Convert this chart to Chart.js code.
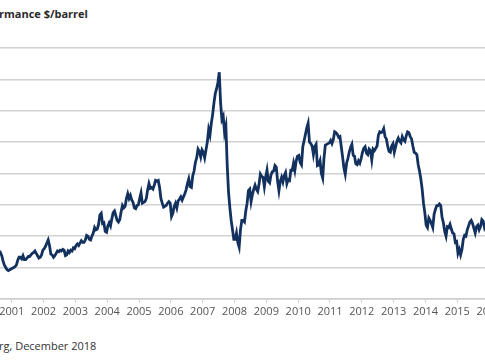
<!DOCTYPE html>
<html>
<head>
<meta charset="utf-8">
<script src="https://cdn.jsdelivr.net/npm/chart.js@4/dist/chart.umd.min.js"></script>
<style>
  html, body { margin: 0; padding: 0; background: #fff; }
  body { width: 485px; height: 360px; overflow: hidden; position: relative; font-family: "Open Sans", sans-serif; }
  #title { position: absolute; left: -1px; top: 6px; font-size: 11px; font-weight: bold; color: #2b2b2b; white-space: nowrap; }
  #source { position: absolute; left: -1px; top: 338px; font-size: 11px; color: #333; white-space: nowrap; }
  #wrap { position: absolute; left: -60px; top: 0; width: 605px; height: 320px; }
</style>
</head>
<body>
<div id="title">rmance $/barrel</div>
<div id="wrap"><canvas id="chart"></canvas></div>
<div id="source">rg, December 2018</div>
<script>
// prix semi-mensuels, premier point = 1re quinzaine de juillet 2001
const startYear = 2001.5;
const pointsPerYear = 24;
const prices = [
  26.5, 26.8, 28.5, 29.5, 27.5, 24.0, 21.5, 20.0, 18.5, 18.0, 18.5, 19.0,             // 2001 S2
  19.5, 20.0, 20.5, 21.5, 24.5, 26.5, 26.5, 25.5, 27.5, 25.0, 25.0, 26.0,             // 2002
  27.0, 27.0, 28.0, 29.0, 29.5, 30.5, 29.0, 27.5, 26.0, 26.5, 28.0, 31.0,
  32.0, 33.5, 35.5, 37.5, 34.0, 28.5, 28.0, 26.5, 27.5, 29.0, 30.5, 30.0,             // 2003
  31.0, 30.5, 31.5, 31.0, 27.5, 28.0, 30.5, 29.5, 31.0, 30.5, 32.5, 32.0,
  34.0, 35.0, 34.0, 35.5, 37.0, 36.0, 36.0, 37.5, 40.5, 40.0, 38.0, 37.5,             // 2004
  40.0, 42.0, 45.5, 44.0, 44.5, 47.5, 53.5, 54.5, 48.0, 48.5, 43.0, 42.5,
  46.5, 48.5, 46.5, 51.0, 55.0, 56.0, 53.0, 50.0, 49.0, 50.5, 55.5, 59.5,             // 2005
  58.0, 59.0, 64.0, 67.0, 64.0, 66.0, 63.0, 61.5, 58.0, 57.5, 59.5, 60.0,
  64.0, 67.5, 61.0, 61.5, 62.0, 64.0, 69.5, 73.5, 70.5, 71.0, 70.0, 72.5,             // 2006
  75.5, 75.0, 75.5, 71.0, 64.0, 61.0, 58.5, 59.0, 59.5, 61.0, 62.0, 61.0,
  52.5, 54.5, 59.0, 61.0, 58.0, 62.5, 63.5, 65.0, 63.0, 65.0, 67.0, 69.5,             // 2007
  73.5, 76.5, 71.5, 71.0, 78.5, 81.5, 87.0, 90.0, 95.5, 94.0, 90.5, 95.0,
  93.5, 90.0, 95.0, 100.0, 108.0, 104.5, 112.0, 117.5, 125.0, 131.0, 134.0, 138.0,    // 2008
  144.5, 125.0, 114.5, 116.5, 106.0, 110.0, 85.0, 68.0, 58.0, 50.0, 44.0, 38.0,
  38.0, 42.0, 36.0, 33.0, 44.0, 50.0, 50.0, 49.0, 56.0, 61.0, 69.0, 70.0,             // 2009
  62.0, 66.5, 70.0, 72.5, 70.0, 68.5, 73.0, 79.5, 78.0, 77.5, 71.5, 77.5,
  82.0, 75.0, 74.0, 79.0, 81.0, 81.5, 85.0, 84.0, 75.0, 69.0, 75.0, 77.5,             // 2010
  74.5, 78.5, 80.5, 73.5, 76.0, 75.5, 82.0, 82.0, 86.5, 82.0, 88.0, 91.0,
  91.5, 87.0, 85.5, 97.0, 101.0, 105.0, 109.0, 112.0, 100.0, 99.0, 97.5, 92.0,        // 2011
  97.0, 98.5, 85.0, 85.5, 88.0, 80.0, 77.0, 90.0, 98.0, 98.5, 99.0, 99.5,
  101.0, 99.0, 101.5, 106.5, 106.0, 105.0, 103.0, 103.5, 97.0, 90.5, 83.5, 79.5,      // 2012
  86.5, 89.5, 93.5, 96.5, 98.5, 91.5, 91.0, 86.0, 85.5, 88.0, 86.5, 89.5,
  93.5, 96.0, 97.0, 93.0, 92.0, 95.5, 94.5, 88.5, 95.5, 94.5, 96.0, 97.5,             // 2013
  104.5, 106.5, 106.0, 106.5, 108.5, 103.5, 102.0, 97.5, 94.0, 93.5, 97.5, 99.0,
  93.5, 97.0, 100.5, 102.5, 100.5, 99.5, 103.5, 101.5, 100.5, 104.0, 106.5, 106.0,    // 2014
  103.5, 102.0, 97.5, 93.5, 93.0, 92.0, 85.5, 81.5, 76.5, 70.0, 61.0, 55.0,
  47.0, 45.5, 51.5, 50.0, 48.0, 45.5, 54.0, 57.0, 59.5, 59.5, 60.5, 59.5,             // 2015
  52.0, 48.5, 43.0, 40.0, 46.0, 45.5, 47.5, 44.5, 42.0, 41.5, 36.0, 36.5,
  29.0, 31.5, 28.0, 31.5, 38.0, 40.5, 40.0, 44.0, 46.5, 49.0, 50.0, 48.0,             // 2016
  45.0, 42.0, 46.0, 47.0, 44.0, 46.0, 50.5, 49.5, 45.5, 47.5, 51.5, 53.0
];

// repères d'année (fin d'année) et libellés
const tickYears = [2002, 2003, 2004, 2005, 2006, 2007, 2008, 2009, 2010, 2011, 2012, 2013, 2014, 2015, 2016, 2017];
const yearLabels = ['2001', '2002', '2003', '2004', '2005', '2006', '2007', '2008', '2009', '2010', '2011', '2012', '2013', '2014', '2015', '2016'];
const xRange = [2001.632, 2016.87];
const yRange = [0, 160];

const series = prices.map((p, i) => ({ x: startYear + (i + 0.5) / pointsPerYear, y: p }));

new Chart(document.getElementById('chart'), {
  type: 'line',
  data: {
    datasets: [{
      data: series,
      borderColor: '#13315f',
      borderWidth: 2.8,
      pointRadius: 0,
      tension: 0,
      fill: false,
    }]
  },
  options: {
    responsive: true,
    maintainAspectRatio: false,
    animation: false,
    layout: { padding: { left: 60, right: 60, top: 48, bottom: 0 } },
    plugins: { legend: { display: false }, tooltip: { enabled: false } },
    scales: {
      x: {
        type: 'linear',
        min: xRange[0],
        max: xRange[1],
        afterBuildTicks: (scale) => { scale.ticks = tickYears.map(v => ({ value: v })); },
        grid: { drawOnChartArea: false, drawTicks: true, tickLength: 4, color: '#cfcfcf', lineWidth: 1 },
        border: { display: true, color: '#cfcfcf', width: 1.5 },
        ticks: {
          autoSkip: false, maxRotation: 0, padding: 2,
          color: '#555', font: { family: 'Open Sans', size: 11 },
          callback: (v, i) => yearLabels[i],
        },
      },
      y: {
        min: yRange[0],
        max: yRange[1],
        ticks: { display: false, stepSize: 20 },
        grid: { color: '#d2d2d2', lineWidth: 1.5, drawTicks: false },
        border: { display: false },
      },
    },
  }
});
</script>
</body>
</html>
